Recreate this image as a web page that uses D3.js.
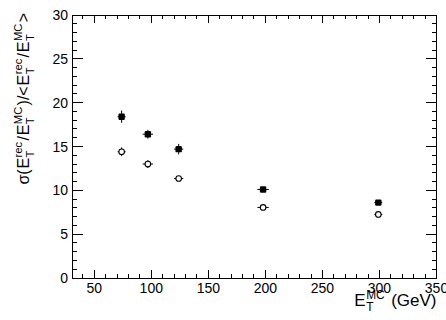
<!DOCTYPE html>
<html>
<head>
<meta charset="utf-8">
<script src="https://cdn.jsdelivr.net/npm/d3@7"></script>
<style>
  body { margin: 0; background: #fff; }
  svg { display: block; font-family: "Liberation Sans", Arial, Helvetica, sans-serif; }
</style>
</head>
<body>
<svg width="446" height="320"></svg>
<script>
// E_T resolution vs true E_T, two sets of points
const energies  = [74, 97, 124, 198, 299];
const energyErr = [3.5, 4.5, 4, 5, 3.5];
const resFilled = [18.4, 16.4, 14.7, 10.1, 8.6];
const errFilled = [0.7, 0.5, 0.6, 0.2, 0.2];
const resOpen   = [14.4, 13.0, 11.35, 8.05, 7.25];
const errOpen   = [0.5, 0.45, 0.2, 0.15, 0.15];

const xMajor = [50, 100, 150, 200, 250, 300, 350];
const yMajor = [0, 5, 10, 15, 20, 25, 30];

const svg = d3.select('svg');
const frameL = 72, frameR = 436.5, frameT = 15, frameB = 278;

const x = d3.scaleLinear().domain([30.5, 350]).range([frameL, frameR]);
const y = d3.scaleLinear().domain([0, 30]).range([frameB, frameT]);

// ticks, ROOT style: on all four sides, pointing inwards
const xMinor = d3.range(40, 350, 10).filter(v => !xMajor.includes(v));
const yMinor = d3.range(1, 30, 1).filter(v => !yMajor.includes(v));

const axes = svg.append('g').attr('stroke', '#000').attr('stroke-width', 1)
    .attr('shape-rendering', 'crispEdges');

function xTicks(vals, len) {
    vals.forEach(v => {
        axes.append('line').attr('x1', x(v)).attr('x2', x(v)).attr('y1', frameB).attr('y2', frameB - len);
        axes.append('line').attr('x1', x(v)).attr('x2', x(v)).attr('y1', frameT).attr('y2', frameT + len);
    });
}
function yTicks(vals, len) {
    vals.forEach(v => {
        axes.append('line').attr('y1', y(v)).attr('y2', y(v)).attr('x1', frameL).attr('x2', frameL + len);
        axes.append('line').attr('y1', y(v)).attr('y2', y(v)).attr('x1', frameR).attr('x2', frameR - len);
    });
}
xTicks(xMajor.filter(v => v < 350), 8);
xTicks(xMinor, 4);
yTicks(yMajor.filter(v => v > 0 && v < 30), 11);
yTicks(yMinor, 5);

axes.append('rect').attr('x', frameL).attr('y', frameT)
    .attr('width', frameR - frameL).attr('height', frameB - frameT)
    .attr('fill', 'none');

// tick labels
svg.append('g').selectAll('text').data(xMajor).enter().append('text')
    .attr('x', d => x(d)).attr('y', 293)
    .attr('text-anchor', 'middle').attr('font-size', 14)
    .text(d => d);
svg.append('g').selectAll('text').data(yMajor).enter().append('text')
    .attr('x', 68).attr('y', d => y(d) + 5)
    .attr('text-anchor', 'end').attr('font-size', 14)
    .text(d => d);

// little TLatex-like layout: E with stacked sub/superscript
function latex(g, parts, fs, gap) {
    let pos = 0;
    parts.forEach(p => {
        pos += p.pad || 0;
        let t = g.append('text').attr('x', pos).attr('y', 0).attr('font-size', fs).text(p.t);
        let w = t.node().getComputedTextLength();
        let sw = 0;
        if (p.sup) {
            let s = g.append('text').attr('x', pos + w + 0.5).attr('y', -fs * 0.42)
                .attr('font-size', fs * 0.7).text(p.sup);
            sw = Math.max(sw, s.node().getComputedTextLength());
        }
        if (p.sub) {
            let s = g.append('text').attr('x', pos + w + 0.5).attr('y', fs * 0.3)
                .attr('font-size', fs * 0.7).text(p.sub);
            sw = Math.max(sw, s.node().getComputedTextLength());
        }
        pos += w + (sw ? sw + 1 : 0) + gap;
    });
    return pos - gap;
}

// x axis title, right aligned at the frame end
const xt = svg.append('g');
const xw = latex(xt, [{t: 'E', sub: 'T', sup: 'MC'}, {t: '(GeV)', pad: 6}], 17, 0);
xt.attr('transform', `translate(${frameR - xw},306)`);

// y axis title, rotated, right aligned at the top
const yt = svg.append('g');
const yParts = [
    {t: 'σ('}, {t: 'E', sub: 'T', sup: 'rec'}, {t: '/'}, {t: 'E', sub: 'T', sup: 'MC'},
    {t: ')/<'}, {t: 'E', sub: 'T', sup: 'rec'}, {t: '/'}, {t: 'E', sub: 'T', sup: 'MC'}, {t: '>'}
];
const yw = latex(yt, yParts, 16, 0.8);
yt.attr('transform', `translate(29,${13 + yw}) rotate(-90)`);

// data points with error bars
function series(vals, errs, filled) {
    const g = svg.append('g');
    vals.forEach((v, i) => {
        const cx = x(energies[i]), cy = y(v);
        g.append('line').attr('x1', x(energies[i] - energyErr[i])).attr('x2', x(energies[i] + energyErr[i]))
            .attr('y1', cy).attr('y2', cy).attr('stroke', '#000');
        g.append('line').attr('x1', cx).attr('x2', cx)
            .attr('y1', y(v - errs[i])).attr('y2', y(v + errs[i])).attr('stroke', '#000');
        if (filled) {
            g.append('rect').attr('x', cx - 3.2).attr('y', cy - 3.2).attr('width', 6.4).attr('height', 6.4)
                .attr('rx', 1.2).attr('fill', '#000');
        } else {
            g.append('circle').attr('cx', cx).attr('cy', cy).attr('r', 2.8)
                .attr('fill', '#fff').attr('stroke', '#000').attr('stroke-width', 1.1);
        }
    });
}
series(resFilled, errFilled, true);
series(resOpen, errOpen, false);
</script>
</body>
</html>
